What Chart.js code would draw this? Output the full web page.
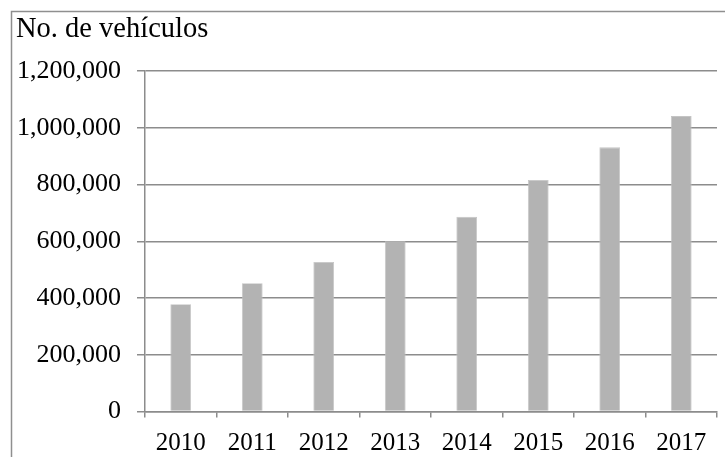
<!DOCTYPE html>
<html>
<head>
<meta charset="utf-8">
<script src="https://cdn.jsdelivr.net/npm/chart.js@4/dist/chart.umd.min.js"></script>
<style>
  html, body { margin: 0; padding: 0; background: #ffffff; }
  #wrap { position: relative; width: 725px; height: 457px; }
</style>
</head>
<body>
<div id="wrap"><canvas id="c" width="725" height="457"></canvas></div>
<script>
// Vehículos registrados por año
const years = ['2010', '2011', '2012', '2013', '2014', '2015', '2016', '2017'];
const vehicles = [378000, 452000, 527000, 600000, 686000, 816000, 931000, 1041000];
const yTicks = [0, 200000, 400000, 600000, 800000, 1000000, 1200000];
const yTitle = 'No. de vehículos';

const FONT = '"Liberation Serif", "Times New Roman", serif';
const GRID = '#8c8c8c';

// Outer frame and the axis title in the top-left corner
const framePlugin = {
  id: 'frame',
  afterDraw(chart) {
    const ctx = chart.ctx;
    ctx.save();
    ctx.strokeStyle = '#8f8f8f';
    ctx.lineWidth = 1.5;
    ctx.beginPath();
    ctx.moveTo(11.5, chart.height);
    ctx.lineTo(11.5, 11.5);
    ctx.lineTo(chart.width, 11.5);
    ctx.stroke();
    ctx.fillStyle = '#000000';
    ctx.font = '28.5px ' + FONT;
    ctx.textBaseline = 'alphabetic';
    ctx.textAlign = 'left';
    ctx.fillText(yTitle, 16, 37);
    ctx.restore();
  }
};

new Chart(document.getElementById('c'), {
  type: 'bar',
  data: {
    labels: years,
    datasets: [{
      data: vehicles,
      backgroundColor: '#b3b3b3',
      borderColor: '#c4c4c4',
      borderWidth: 0.8,
      categoryPercentage: 1,
      barPercentage: 0.29
    }]
  },
  options: {
    responsive: false,
    animation: false,
    devicePixelRatio: 1,
    layout: { padding: { left: 0, right: 8, top: 71, bottom: 0 } },
    plugins: { legend: { display: false }, tooltip: { enabled: false }, title: { display: false } },
    scales: {
      x: {
        offset: true,
        grid: {
          offset: true,
          drawOnChartArea: false,
          drawTicks: true,
          tickLength: 6,
          color: GRID,
          lineWidth: 1.5
        },
        border: { display: true, color: GRID, width: 1.5 },
        ticks: { color: '#000000', font: { family: FONT, size: 25 }, padding: 11, maxRotation: 0 },
        afterFit(axis) { axis.height = 45.5; }
      },
      y: {
        min: 0,
        max: 1200000,
        afterBuildTicks(axis) { axis.ticks = yTicks.map(v => ({ value: v })); },
        grid: {
          color: GRID,
          lineWidth: 1.5,
          drawTicks: true,
          tickLength: 8
        },
        border: { display: true, color: GRID, width: 1.5 },
        ticks: {
          color: '#000000',
          font: { family: FONT, size: 26 },
          padding: 16,
          callback: v => v.toLocaleString('en-US')
        },
        afterFit(axis) { axis.width = 145; }
      }
    }
  },
  plugins: [framePlugin]
});
</script>
</body>
</html>
